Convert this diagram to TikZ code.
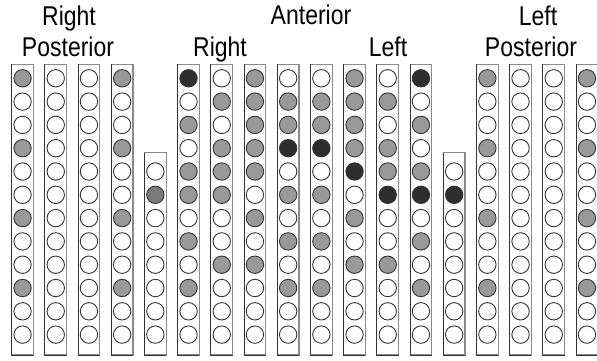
\documentclass[tikz,border=0pt]{standalone}
\usepackage{graphicx}
\usepackage{fontspec}
\setmainfont{Liberation Sans}
\definecolor{cg}{HTML}{999999}
\definecolor{cd}{HTML}{7A7A7A}
\definecolor{cb}{HTML}{2E2E2E}
\definecolor{edge}{HTML}{8A8A8A}
\definecolor{ink}{HTML}{333333}
\newcommand\tall[1]{\scalebox{1}[1.18]{#1}}
\tikzset{
  dot/.style={circle, draw=ink, line width=0.9pt, minimum size=17.4pt, inner sep=0pt, outer sep=0pt},
  colbox/.style={rectangle, draw=edge, line width=1.1pt, fill=white, minimum width=21.7pt, inner sep=0pt, outer sep=0pt, anchor=north west},
  darkedge/.style={draw=ink, line width=1pt},
  lbl/.style={font=\fontsize{23}{27}\selectfont, anchor=base, inner sep=0pt}
}
\newcommand\mycol[3]{%
  \pgfmathsetmacro\xx{11.7+33.2*(#1-1)}
  \node[colbox, minimum height={355-#2}] (b#1) at (\xx,#2) {};
  \draw[darkedge] (b#1.north west) -- (b#1.south west) -- (b#1.south east);
  \foreach \f [count=\r from 0] in {#3}{%
    \ifnum\f>-1
      \ifcase\f \def\fc{white}\or \def\fc{cg}\or \def\fc{cb}\or \def\fc{cd}\fi
      \node[dot, fill=\fc] (c#1-\r) at ({\xx+10.85},{78.3+23.3*\r}) {};
    \fi}%
}
\begin{document}
\begin{tikzpicture}[x=1pt,y=-1pt]
\useasboundingbox (0,0) rectangle (597,360);
\mycol{1}{64.3}{1,0,0,1,0,0,1,0,0,1,0,0}
\mycol{2}{64.3}{0,0,0,0,0,0,0,0,0,0,0,0}
\mycol{3}{64.3}{0,0,0,0,0,0,0,0,0,0,0,0}
\mycol{4}{64.3}{1,0,0,1,0,0,1,0,0,1,0,0}
\mycol{5}{152.7}{-1,-1,-1,-1,0,3,0,0,0,0,0,0}
\mycol{6}{64.3}{2,0,1,0,1,1,0,1,0,1,0,0}
\mycol{7}{64.3}{0,1,0,1,1,1,0,0,1,0,0,0}
\mycol{8}{64.3}{1,1,1,1,1,0,1,0,1,0,0,0}
\mycol{9}{64.3}{0,1,1,2,0,1,0,1,0,1,0,0}
\mycol{10}{64.3}{0,1,1,2,0,1,0,1,0,1,0,0}
\mycol{11}{64.3}{1,1,1,1,2,0,1,0,1,0,0,0}
\mycol{12}{64.3}{0,1,0,1,1,2,0,0,1,0,0,0}
\mycol{13}{64.3}{2,0,1,0,1,2,0,1,0,1,0,0}
\mycol{14}{152.7}{-1,-1,-1,-1,0,2,0,0,0,0,0,0}
\mycol{15}{64.3}{1,0,0,1,0,0,1,0,0,1,0,0}
\mycol{16}{64.3}{0,0,0,0,0,0,0,0,0,0,0,0}
\mycol{17}{64.3}{0,0,0,0,0,0,0,0,0,0,0,0}
\mycol{18}{64.3}{1,0,0,1,0,0,1,0,0,1,0,0}
\node[lbl] (rp1) at (69,25) {\tall{Right}};
\node[lbl] (rp2) at (68,56.5) {\tall{Posterior}};
\node[lbl] (ant) at (311,24) {\tall{Anterior}};
\node[lbl] (ar) at (220,56.5) {\tall{Right}};
\node[lbl] (al) at (388,56.5) {\tall{Left}};
\node[lbl] (lp1) at (538,25) {\tall{Left}};
\node[lbl] (lp2) at (531,56.5) {\tall{Posterior}};
\end{tikzpicture}
\end{document}
